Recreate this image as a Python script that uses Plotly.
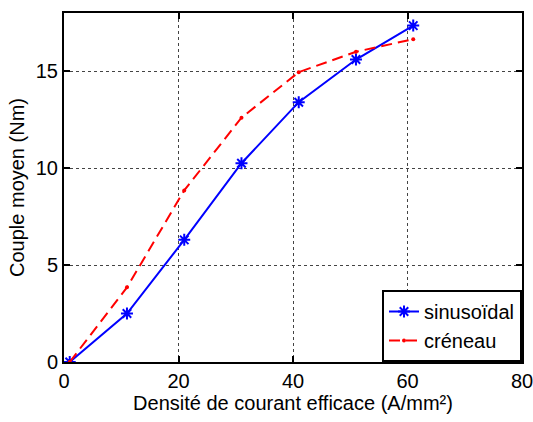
import plotly.graph_objects as go

# current density (A/mm2) and mean torque (Nm)
densite = [1, 11, 21, 31, 41, 51, 61]
couple_sinus = [0.0, 2.5, 6.3, 10.25, 13.4, 15.6, 17.35]
couple_creneau = [0.0, 3.85, 8.85, 12.6, 14.95, 16.0, 16.65]

FONT = "Liberation Sans, Arial, sans-serif"

fig = go.Figure()

fig.add_trace(go.Scatter(
    x=densite, y=couple_sinus,
    mode="lines+markers",
    name="sinusoïdal",
    line=dict(color="#0000ff", width=2),
    marker=dict(symbol="asterisk-open", size=10, color="#0000ff",
                line=dict(color="#0000ff", width=2))
))

fig.add_trace(go.Scatter(
    x=densite, y=couple_creneau,
    mode="lines+markers",
    name="créneau",
    line=dict(color="#ff0000", width=2, dash="11px,6px"),
    marker=dict(symbol="circle", size=4, color="#ff0000")
))

axis_common = dict(
    showline=True, linecolor="black", linewidth=2, mirror="allticks",
    ticks="inside", ticklen=6, tickwidth=1.5, tickcolor="black",
    showgrid=True, gridcolor="#444444", griddash="dot", gridwidth=1,
    zeroline=False, automargin=False, ticklabeloverflow="allow",
    tickfont=dict(family=FONT, size=20, color="black"),
)

fig.update_xaxes(
    range=[0, 80], dtick=20,
    title=dict(text="Densité de courant efficace (A/mm²)",
               font=dict(family=FONT, size=20, color="black"), standoff=2),
    **axis_common
)
fig.update_yaxes(
    range=[0, 18], tickvals=[0, 5, 10, 15],
    title=dict(text="Couple moyen (Nm)",
               font=dict(family=FONT, size=20, color="black"), standoff=6),
    **axis_common
)

fig.update_layout(
    width=533, height=422,
    margin=dict(l=64, r=11, t=13, b=60),
    plot_bgcolor="white", paper_bgcolor="white",
    showlegend=True,
    legend=dict(x=1, y=0, xanchor="right", yanchor="bottom",
                bordercolor="black", borderwidth=2, bgcolor="white",
                font=dict(family=FONT, size=20, color="black"),
                tracegroupgap=0, itemwidth=30),
)

# drop the default body margin so the figure fills the window
fig.write_html("out.html", config={"displayModeBar": False},
               post_script="document.body.style.margin='0';")
